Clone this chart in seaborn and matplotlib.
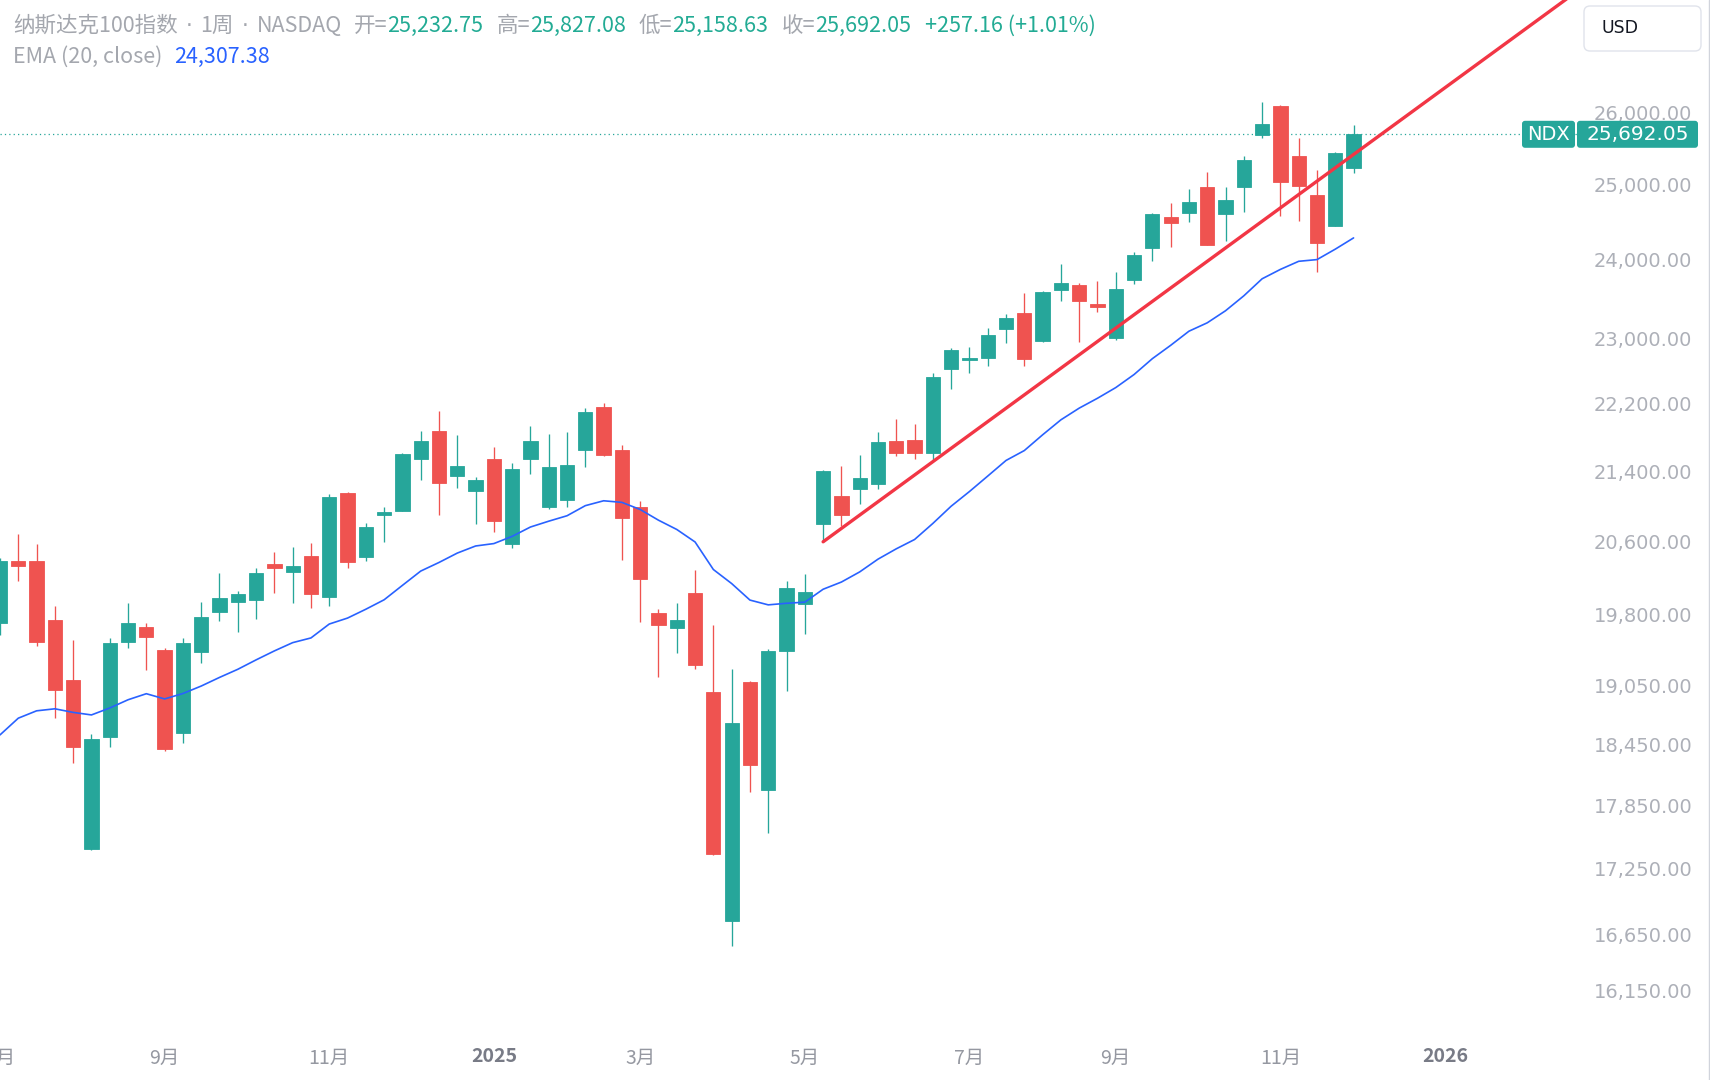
import numpy as np
import pandas as pd
import matplotlib
matplotlib.use("Agg")
import matplotlib.pyplot as plt
import seaborn as sns
from matplotlib.patches import FancyBboxPatch
from matplotlib.lines import Line2D
from matplotlib.ticker import NullLocator
from matplotlib.transforms import IdentityTransform

# ---------------- data (weekly NASDAQ-100) ----------------
WEEKS = pd.date_range("2024-07-01", "2025-12-01", freq="7D").strftime("%Y-%m-%d").tolist()

OPEN = [19706, 20390, 20380, 19740, 19110, 17440, 18530, 19505, 19665, 19425,
        18570, 19400, 19830, 19940, 19960, 20350, 20265, 20440, 19995, 21155,
        20430, 20905, 20950, 21545, 21875, 21345, 21170, 21540, 20575, 21540,
        20985, 21070, 21650, 22165, 21655, 20985, 19815, 19660, 20030, 18990,
        16765, 19085, 18005, 19415, 19910, 20800, 21115, 21195, 21255, 21755,
        21765, 21610, 22620, 22735, 22760, 23115, 23320, 22970, 23610, 23670,
        23430, 23000, 23740, 24150, 24570, 24615, 24965, 24600, 24965, 25685,
        26090, 25390, 24860, 24445, 25232.75]
HIGH = [20420, 20690, 20575, 19890, 19530, 18560, 19550, 19930, 19715, 19440,
        19550, 19940, 20255, 20055, 20305, 20480, 20545, 20590, 21135, 21165,
        20805, 20990, 21615, 21875, 22115, 21825, 21340, 21680, 21500, 21935,
        21835, 21860, 22150, 22205, 21710, 21060, 19860, 19930, 20280, 19690,
        19220, 19105, 19435, 20160, 20240, 21420, 21460, 21590, 21865, 22015,
        21955, 22575, 22875, 22895, 23135, 23305, 23575, 23600, 23945, 23700,
        23725, 23840, 24105, 24615, 24750, 24935, 25175, 24970, 25395, 26150,
        26100, 25635, 25200, 25450, 25827.08]
LOW = [19580, 20160, 19470, 18720, 18270, 17430, 18430, 19440, 19215, 18390,
       18465, 19285, 19735, 19615, 19750, 20030, 19930, 19870, 19895, 20310,
       20385, 20600, 20945, 21300, 20900, 21210, 20795, 20710, 20525, 21370,
       20965, 20995, 21445, 21575, 20395, 19725, 19145, 19390, 19230, 17380,
       16540, 17985, 17590, 19000, 19595, 20600, 20775, 21025, 21195, 21580,
       21540, 21530, 22375, 22575, 22660, 22940, 22660, 22960, 23470, 22950,
       23335, 22980, 23690, 23990, 24170, 24495, 24190, 24250, 24635, 25635,
       24585, 24515, 23845, 24440, 25158.63]
CLOSE = [20380, 20325, 19505, 19010, 18430, 18507, 19495, 19706, 19560, 18405,
         19500, 19780, 19985, 20025, 20255, 20310, 20330, 20025, 21105, 20370,
         20760, 20930, 21605, 21760, 21270, 21460, 21300, 20835, 21425, 21760,
         21455, 21475, 22095, 21590, 20870, 20190, 19690, 19742, 19265, 17390,
         18675, 18250, 19415, 20085, 20050, 21405, 20900, 21320, 21740, 21610,
         21610, 22520, 22855, 22760, 23040, 23250, 22745, 23590, 23700, 23475,
         23395, 23625, 24065, 24600, 24480, 24765, 24195, 24795, 25340, 25830,
         25030, 24980, 24215, 25434.89, 25692.05]

EMA_PERIOD = 20
EMA_FIRST = 18550          # EMA value at the first visible week
EMA_LABEL = "24,307.38"

TREND_WEEKS = ["2025-05-12", "2026-02-23"]
TREND_PRICES = [20598, 27720]

XTICK_WEEKS = ["2024-07-01", "2024-09-02", "2024-11-04", "2025-01-06", "2025-03-03",
               "2025-05-05", "2025-07-07", "2025-09-01", "2025-11-03", "2026-01-05"]
XTICK_LABELS = ["7月", "9月", "11月", "2025", "3月", "5月", "7月", "9月", "11月", "2026"]
YTICKS = [26000, 25000, 24000, 23000, 22200, 21400, 20600, 19800, 19050,
          18450, 17850, 17250, 16650, 16150]

TITLE_PARTS = ["纳斯达克100指数", "1周", "NASDAQ"]
SYMBOL = "NDX"
CURRENCY = "USD"

# ---------------- style ----------------
UP = "#26A69A"
DOWN = "#EF5350"
UP_TXT = "#22AB94"
GRAY_TXT = "#A4A7AE"
AXIS_TXT = "#ADB0B8"
EMA_COLOR = "#2962FF"
TREND_COLOR = "#F23645"

W, H = 1710, 1080
sns.set_theme(style="white")
plt.rcParams["font.family"] = ["Noto Sans CJK SC", "DejaVu Sans"]
plt.rcParams["axes.unicode_minus"] = False

fig = plt.figure(figsize=(W / 100, H / 100), dpi=100)
fig.patch.set_facecolor("white")
ax = fig.add_axes([0, 45 / H, 1578 / W, 1 - 45 / H])
ax.set_facecolor("white")

start = pd.Timestamp(WEEKS[0])
def wpos(d):
    return (pd.Timestamp(d) - start).days / 7.0

X = np.array([wpos(d) for d in WEEKS])
O = np.array(OPEN, float); Hh = np.array(HIGH, float)
L = np.array(LOW, float); C = np.array(CLOSE, float)

# EMA(20, close)
alpha = 2.0 / (EMA_PERIOD + 1)
ema = [EMA_FIRST]
for c in C[1:]:
    ema.append(ema[-1] + alpha * (c - ema[-1]))
ema = np.array(ema)

ax.set_yscale("log")

cols = np.where(C >= O, UP, DOWN)
ax.vlines(X, L, Hh, colors=cols, linewidth=0.95, zorder=3)
ax.bar(X, np.abs(C - O), bottom=np.minimum(O, C), width=0.78, color=cols,
       edgecolor=cols, linewidth=0.6, zorder=4)

df_ema = pd.DataFrame({"x": X, "ema": ema})
sns.lineplot(data=df_ema, x="x", y="ema", ax=ax, color=EMA_COLOR, linewidth=1.2,
             zorder=5, legend=False)

# trend line
ax.plot([wpos(d) for d in TREND_WEEKS], TREND_PRICES, color=TREND_COLOR,
        linewidth=2.4, solid_capstyle="round", zorder=6)

# last price dotted line
ax.axhline(C[-1], color=UP, linestyle=(0, (1, 2.5)), linewidth=0.9, zorder=1)

ax.set_xlim(0, 86.27)
ax.set_ylim(15764, 27633)

ax.set_yticks(YTICKS)
ax.set_yticklabels([f"{v:,.2f}" for v in YTICKS])
ax.yaxis.set_minor_locator(NullLocator())
ax.yaxis.tick_right()
ax.tick_params(axis="y", which="both", length=0, pad=11.5, labelsize=14,
               labelcolor=AXIS_TXT)
for t in ax.get_yticklabels():
    t.set_fontfamily("DejaVu Sans")

ax.set_xticks([wpos(d) for d in XTICK_WEEKS])
ax.set_xticklabels(XTICK_LABELS)
ax.xaxis.set_minor_locator(NullLocator())
ax.tick_params(axis="x", which="both", length=0, pad=9, labelsize=14,
               labelcolor="#9598A1")
for t in ax.get_xticklabels():
    if t.get_text().isdigit():
        t.set_fontweight("bold")
        t.set_color("#787B86")

ax.set_xlabel("")
ax.set_ylabel("")
ax.grid(False)
for s in ax.spines.values():
    s.set_visible(False)

# ---------------- header ----------------
renderer = fig.canvas.get_renderer()
CJK = ["Noto Sans CJK SC", "DejaVu Sans"]

def seq(pieces, x0, y):
    x = x0
    for txt, col, gap, size, fam in pieces:
        x += gap
        t = fig.text(x / W, 1 - y / H, txt, color=col, fontsize=size,
                     va="center", ha="left", family=fam)
        x += t.get_window_extent(renderer).width

chg = C[-1] - C[-2]
pct = chg / C[-2] * 100
LS, VS = 15.5, 15.5
seq([(TITLE_PARTS[0], GRAY_TXT, 0, LS, CJK),
     ("·", GRAY_TXT, 8, LS, "DejaVu Sans"),
     (TITLE_PARTS[1], GRAY_TXT, 8, LS, CJK),
     ("·", GRAY_TXT, 8, LS, "DejaVu Sans"),
     (TITLE_PARTS[2], GRAY_TXT, 8, LS, CJK),
     ("开=", GRAY_TXT, 12, LS, CJK), (f"{O[-1]:,.2f}", UP_TXT, 0, VS, CJK),
     ("高=", GRAY_TXT, 13, LS, CJK), (f"{Hh[-1]:,.2f}", UP_TXT, 0, VS, CJK),
     ("低=", GRAY_TXT, 13, LS, CJK), (f"{L[-1]:,.2f}", UP_TXT, 0, VS, CJK),
     ("收=", GRAY_TXT, 13, LS, CJK), (f"{C[-1]:,.2f}", UP_TXT, 0, VS, CJK),
     (f"{chg:+,.2f} ({pct:+.2f}%)", UP_TXT, 14, VS, CJK)], 13, 26)
seq([(f"EMA ({EMA_PERIOD}, close)", GRAY_TXT, 0, 15.5, CJK),
     (EMA_LABEL, EMA_COLOR, 12, 15.5, CJK)], 13, 57)

# ---------------- last price label ----------------
ypix = ax.transData.transform((0, C[-1]))[1]
bh = 27
fig.add_artist(FancyBboxPatch((1522, ypix - bh / 2), 53, bh,
                              boxstyle="round,pad=0,rounding_size=3",
                              fc=UP, ec="none", transform=IdentityTransform(), zorder=20))
fig.add_artist(FancyBboxPatch((1577, ypix - bh / 2), 121, bh,
                              boxstyle="round,pad=0,rounding_size=3",
                              fc=UP, ec="none", transform=IdentityTransform(), zorder=20))
fig.text(1548.5 / W, ypix / H, SYMBOL, color="white", fontsize=14, ha="center",
         va="center", family="DejaVu Sans", zorder=21)
fig.text(1638 / W, ypix / H, f"{C[-1]:,.2f}", color="white", fontsize=14.5, ha="center",
         va="center", family="DejaVu Sans", zorder=21)

# currency box
fig.add_artist(FancyBboxPatch((1584, H - 51), 117, 45,
                              boxstyle="round,pad=0,rounding_size=6",
                              fc="white", ec="#E0E3EB", lw=1,
                              transform=IdentityTransform(), zorder=20))
fig.text(1601 / W, 1 - 28 / H, CURRENCY, color="#131722", fontsize=12.5, ha="left",
         va="center", family="DejaVu Sans", zorder=21)

# right border
fig.add_artist(Line2D([1708.5 / W, 1708.5 / W], [0, 1], color="#D1D4DC", lw=1,
                      transform=fig.transFigure))

fig.savefig("out.png", dpi=100, facecolor="white")
